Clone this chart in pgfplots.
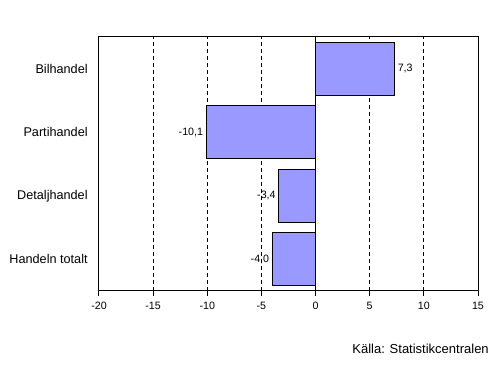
\documentclass[border=0pt]{standalone}
\usepackage{pgfplots}
\pgfplotsset{compat=1.18}
\usepackage{fontspec}
\setmainfont{Liberation Sans}
\definecolor{barblue}{HTML}{9999FF}
\begin{document}
\begin{tikzpicture}
\path[use as bounding box] (-74.25pt,-59.25pt) rectangle (303pt,218.25pt);
\begin{axis}[
  at={(0,0)}, anchor=south west,
  scale only axis,
  width=284.25pt, height=190.5pt,
  xbar, bar width=0.83,
  xmin=-20, xmax=15, ymin=-0.5, ymax=3.5,
  xtick={-20,-15,-10,-5,0,5,10,15},
  ytick={0,1,2,3},
  yticklabels={Handeln totalt,Detaljhandel,Partihandel,Bilhandel},
  xmajorgrids, major grid style={black, line width=0.75pt, dash pattern=on 3pt off 2.25pt},
  axis line style={black, line width=0.75pt},
  tick style={black, line width=0.75pt},
  xtick pos=bottom, xtick align=outside, major tick length=3.5pt,
  ytick style={draw=none},
  /pgf/number format/assume math mode=true,
  xticklabel style={font=\fontsize{8}{9}\selectfont, yshift=-1.5pt},
  yticklabel style={font=\fontsize{9.5}{10}\selectfont, xshift=-1.5pt},
  point meta=x,
  nodes near coords={\pgfmathprintnumber[fixed, fixed zerofill, precision=1, use comma]{\pgfplotspointmeta}},
  nodes near coords style={font=\fontsize{8}{9}\selectfont, inner sep=2pt, /pgf/number format/assume math mode=true},
  clip=false,
]
\addplot[fill=barblue, draw=black, line width=0.75pt] coordinates {(-4.0,0) (-3.4,1) (-10.1,2) (7.3,3)};
\draw[black, line width=0.75pt] (axis cs:0,-0.5) -- (axis cs:0,3.5);
\end{axis}
\node[anchor=east, inner sep=0pt, font=\fontsize{9.75}{10}\selectfont] at (292.5pt,-43.5pt) {Källa: Statistikcentralen};
\end{tikzpicture}
\end{document}
